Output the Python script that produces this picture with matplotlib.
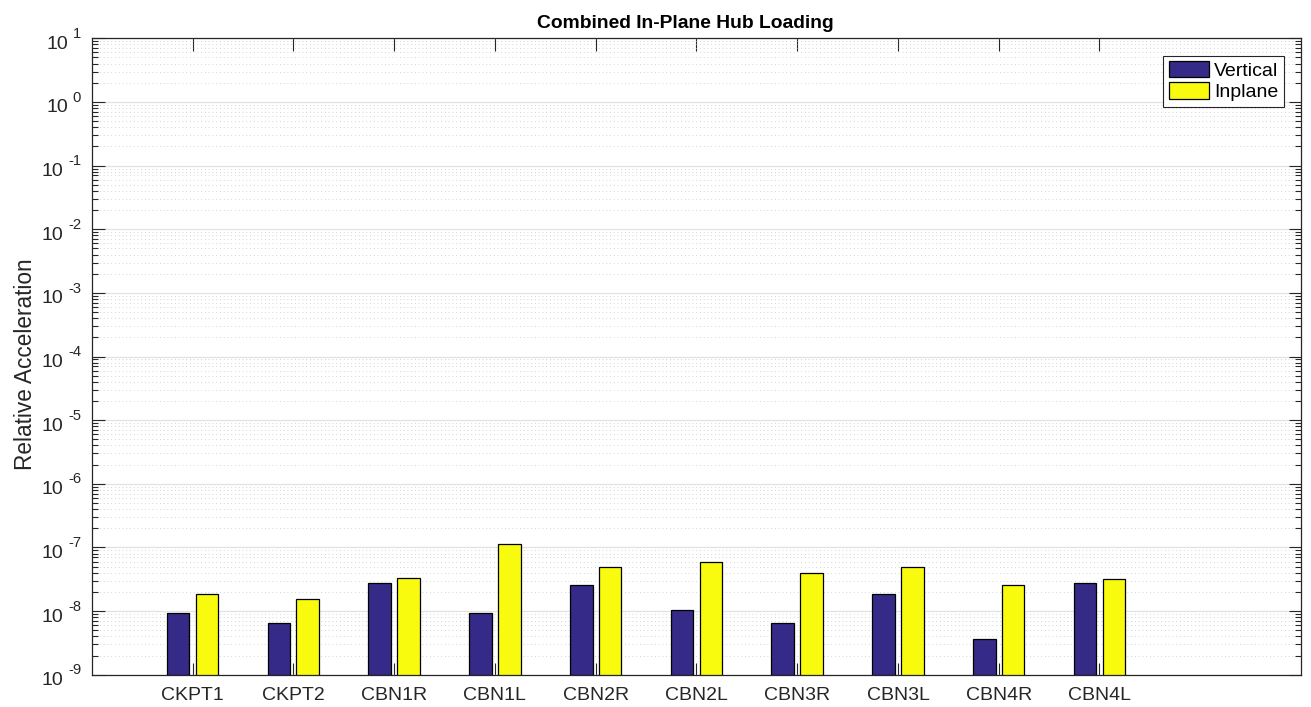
import matplotlib
matplotlib.use("Agg")
import matplotlib.pyplot as plt
import matplotlib.transforms as mtransforms
import numpy as np
from matplotlib.ticker import LogLocator, FixedLocator, NullFormatter

# Sensor locations and measured relative accelerations
locations = ["CKPT1", "CKPT2", "CBN1R", "CBN1L", "CBN2R",
             "CBN2L", "CBN3R", "CBN3L", "CBN4R", "CBN4L"]
vertical = [9.2e-9, 6.6e-9, 2.8e-8, 9.2e-9, 2.55e-8,
            1.03e-8, 6.6e-9, 1.84e-8, 3.7e-9, 2.74e-8]
inplane = [1.84e-8, 1.53e-8, 3.35e-8, 1.12e-7, 4.99e-8,
           5.85e-8, 3.97e-8, 4.99e-8, 2.57e-8, 3.23e-8]
series_names = ["Vertical", "Inplane"]
series_colors = ["#352a87", "#f9fb0e"]
decades = list(range(-9, 2))

plt.rcParams["font.family"] = ["Liberation Sans", "DejaVu Sans"]

axis_col = "#262626"
fig = plt.figure(figsize=(13.11, 7.07), dpi=100)
ax = fig.add_axes([0.0700, 0.0457, 0.9224, 0.9001])

x = np.arange(1, len(locations) + 1)
bw = 0.224
off = 0.143
base = 1e-9
ax.bar(x - off, np.array(vertical) - base, bw, bottom=base, color=series_colors[0],
       edgecolor="black", linewidth=0.9, label=series_names[0], zorder=3)
ax.bar(x + off, np.array(inplane) - base, bw, bottom=base, color=series_colors[1],
       edgecolor="black", linewidth=0.9, label=series_names[1], zorder=3)

ax.set_yscale("log")
ax.set_ylim(1e-9, 1e1)
ax.set_xlim(0, 12)

ax.xaxis.set_major_locator(FixedLocator(x))
ax.set_xticklabels(locations)
ax.yaxis.set_major_locator(FixedLocator([10.0 ** e for e in decades]))
ax.yaxis.set_minor_locator(LogLocator(base=10, subs=np.arange(2, 10), numticks=20))
ax.yaxis.set_major_formatter(NullFormatter())
ax.yaxis.set_minor_formatter(NullFormatter())

ax.tick_params(axis="both", which="major", direction="in", length=9, width=0.8,
               color=axis_col, labelcolor=axis_col, labelsize=14,
               top=True, right=True)
ax.tick_params(axis="x", which="major", pad=9)
ax.tick_params(axis="y", which="minor", direction="in", length=4.3, width=0.8,
               color=axis_col, left=True, right=True)
ax.tick_params(axis="x", which="minor", bottom=False, top=False)
for t in ax.xaxis.get_major_ticks():
    t.tick1line.set_color("#8a8a8a")

# decade labels: "10" plus a raised exponent, the pair right-aligned
blend = mtransforms.blended_transform_factory(ax.transAxes, ax.transData)
px = 1 / 100
for e in decades:
    shift = 0 if e < 0 else 4.5
    base_tr = blend + mtransforms.ScaledTranslation((-28.4 + shift) * px, -10.5 * px,
                                                    fig.dpi_scale_trans)
    exp_tr = blend + mtransforms.ScaledTranslation((-23.4 + shift) * px, 0.3 * px,
                                                   fig.dpi_scale_trans)
    ax.text(0, 10.0 ** e, "10", transform=base_tr, ha="right", va="baseline",
            fontsize=14, color=axis_col, clip_on=False)
    ax.text(0, 10.0 ** e, "%d" % e, transform=exp_tr, ha="left", va="baseline",
            fontsize=10.6, color=axis_col, clip_on=False)

for s in ax.spines.values():
    s.set_color(axis_col)
    s.set_linewidth(0.9)

ax.set_axisbelow(True)
ax.yaxis.grid(True, which="major", color="#e2e2e2", linewidth=0.9, linestyle="-")
ax.yaxis.grid(True, which="minor", color="#c6c6c6", linewidth=0.6,
              linestyle=(0, (1, 3.5)))
ax.xaxis.grid(False)

ax.set_ylabel("Relative Acceleration", fontsize=16.3, color=axis_col)
ax.yaxis.set_label_coords(-0.0452, 0.488)
ax.set_title("Combined In-Plane Hub Loading", fontsize=13.9, fontweight="bold",
             color="black", pad=7.5)
ax.title.set_x(0.491)

leg = ax.legend(loc="upper right", bbox_to_anchor=(0.986, 0.973), fontsize=14,
                frameon=True, fancybox=False, edgecolor=axis_col, framealpha=1,
                handlelength=2.05, handleheight=0.9, handletextpad=0.28,
                labelspacing=0.12, borderpad=0.3, borderaxespad=0)
leg.get_frame().set_linewidth(0.8)

fig.savefig("out.png", dpi=100)
